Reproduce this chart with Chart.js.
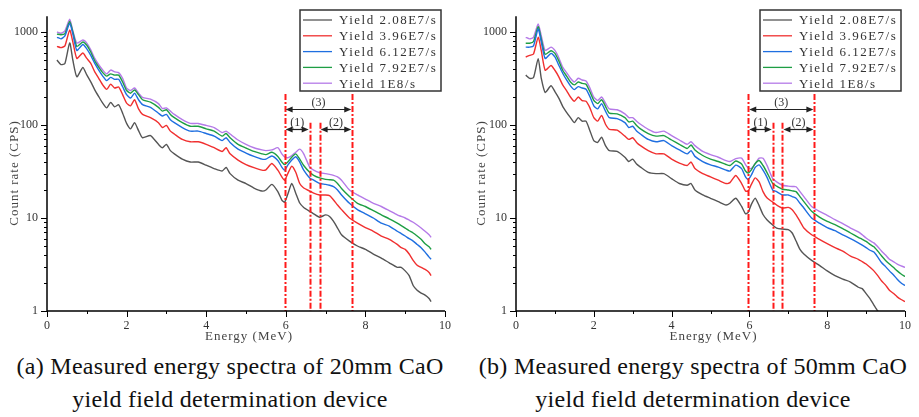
<!DOCTYPE html>
<html lang="en">
<head>
  <meta charset="UTF-8">
  <title>CaO yield field spectra</title>
  <script src="https://cdn.jsdelivr.net/npm/chart.js"></script>
  <style>
    body { margin: 0; background: #fff; width: 919px; height: 417px; position: relative; overflow: hidden; }
    canvas { position: absolute; top: 0; }
    #chartA { left: 0; }
    #chartB { left: 459px; }
    .caption { position: absolute; top: 350px; width: 460px; text-align: center; color: #111;
      font-family: "Liberation Serif", "Times New Roman", serif; font-size: 24px; line-height: 33px; letter-spacing: 0.3px; }
  </style>
</head>
<body>
  <canvas id="chartA" width="459" height="345"></canvas>
  <canvas id="chartB" width="460" height="345"></canvas>
  <div class="caption" style="left:0">(a) Measured energy spectra of 20mm CaO<br>yield field determination device</div>
  <div class="caption" style="left:463px">(b) Measured energy spectra of 50mm CaO<br>yield field determination device</div>

  <script>
    // ---- data ----
    const yieldLabels = ['Yield 2.08E7/s', 'Yield 3.96E7/s', 'Yield 6.12E7/s', 'Yield 7.92E7/s', 'Yield 1E8/s'];
    const lineColors = ['#555555', '#f03030', '#1f6fe0', '#1e9e44', '#b57ae8'];

    const xTicks = [0, 2, 4, 6, 8, 10];
    const yTicks = [1, 10, 100, 1000];

    // energy grid (MeV)
    const energyA = [0.25,0.35,0.45,0.57,0.65,0.75,0.9,1.0,1.1,1.2,
      1.3,1.4,1.5,1.6,1.7,1.8,1.9,2.0,2.1,2.2,
      2.3,2.4,2.6,2.8,2.9,3.0,3.1,3.2,3.4,3.6,
      3.8,4.0,4.2,4.4,4.5,4.6,4.8,5.0,5.2,5.4,
      5.5,5.65,5.8,5.9,5.97,6.05,6.15,6.25,6.35,6.45,
      6.6,6.7,6.85,7.0,7.1,7.2,7.3,7.4,7.6,7.8,
      8.0,8.2,8.4,8.6,8.8,8.9,9.0,9.1,9.2,9.3,
      9.4,9.5,9.6,9.65];
    const energyB = [0.25,0.35,0.45,0.57,0.65,0.75,0.9,1.0,1.1,1.2,
      1.3,1.4,1.5,1.6,1.7,1.8,1.9,2.0,2.1,2.2,
      2.3,2.4,2.6,2.8,2.9,3.0,3.1,3.2,3.4,3.6,
      3.8,4.0,4.2,4.4,4.5,4.6,4.8,5.0,5.2,5.4,
      5.5,5.65,5.8,5.9,5.97,6.05,6.15,6.25,6.35,6.45,
      6.6,6.7,6.85,7.0,7.1,7.2,7.3,7.4,7.6,7.8,
      8.0,8.2,8.4,8.6,8.8,8.9,9.0,9.1,9.2,9.3,
      9.4,9.5,9.6,9.7,9.8,9.9,10.0];

    // (a) 20mm CaO, count rate (CPS)
    const a208 = [500,447,460,765,497,330,415,346,291,239,
      202,172,153,175,157,165,134,104,91,106,
      87,73,77,62,57,62,53,49,43,40,
      40,37,34,32,35,30,25.5,23.5,21,19.5,
      20,23,19.2,15.6,14.8,18,23.5,18.5,14.5,13,
      11.8,11.1,10.2,10.8,10.4,9.2,7.8,6.6,5.65,5.0,
      4.6,4.1,3.7,3.3,2.95,2.95,2.7,2.4,1.88,1.67,
      1.56,1.48,1.36,1.26];
    const a396 = [700,680,710,1050,780,520,595,520,460,373,
      318,270,242,275,250,256,212,172,161,187,
      149,130,120,106,94,99,86,80,70,66,
      66,62,57,52,57,49,42,37.6,34.8,32.7,
      33,38.5,32.7,27.7,25.5,30,36,31,23.5,21,
      19.5,18.5,17.7,17.7,17.4,15.6,13.8,12.3,10.0,8.8,
      7.9,7.2,6.4,5.9,5.2,4.8,4.6,4.1,3.5,3.1,
      2.95,2.8,2.6,2.4];
    const a612 = [878,845,910,1240,950,634,734,660,560,460,
      390,336,300,325,310,310,258,212,195,220,
      187,166,155,134,125,130,114,106,94,86,
      86,81,76,68,73,65,55,50,46,43,
      43,46.5,41.5,35.3,32.7,37,42,45.6,40,32.7,
      27,25.5,23.5,23,22.5,21.7,20,17.7,14.4,12.3,
      11.1,10,8.8,8.2,7.2,6.8,6.4,6.0,5.65,5.2,
      4.8,4.3,3.8,3.6];
    const a792 = [950,935,960,1300,1000,700,780,720,610,490,
      420,366,336,355,344,344,290,235,220,238,
      212,187,176,155,141,146,130,120,106,97,
      97,91,86,76,81,73,62,56.6,52,49,
      48,51,46,40,37.5,40,45,49,43,36.7,
      31,28.8,27,26,25.8,25.5,23.5,20.8,17,14.4,
      13.3,12,10.8,9.8,8.8,8.3,7.8,7.3,6.9,6.4,
      5.9,5.3,4.9,4.6];
    const a1000 = [1000,970,1030,1370,1030,760,820,760,645,520,
      445,390,355,390,373,366,318,250,235,250,
      220,198,190,170,150,153,141,130,114,104,
      104,99,94,83,86,80,69,62,57,54,
      53,54,57,49,45.5,44.5,47,51,55,49,
      35.3,32.7,30.7,30,29.5,28.8,27.7,25.5,20,17.7,
      16,14.4,13.3,12,10.8,10.4,10,9.5,9,8.4,
      7.8,7.2,6.6,6.2];

    // (b) 50mm CaO, count rate (CPS)
    const b208 = [344,317,324,517,317,224,264,229,195,159,
      137,120,106,120,110,110,87,68,65,74,
      60,53,52,45,40.5,43,38,35.3,31,30,
      30,26.5,23.5,22.5,23.5,20,17.7,16.3,15,13.8,
      14.4,16.3,13.3,11.1,11.5,14,16.3,13.6,10.9,9.6,
      8.4,7.8,7.6,7.5,6.9,5.65,4.6,4.1,3.5,3.1,
      2.7,2.4,2.2,2.05,1.8,1.74,1.54,1.36,1.16,1.0,
      0.92,0.86,0.8,0.75,0.7,0.66,0.62];
    const b396 = [539,560,580,878,630,388,437,388,330,270,
      235,200,180,200,183,180,153,120,110,127,
      102,90,88,76,70,73,65,60,53,49,
      49,43,39,36.7,40,34,30,27.7,25.5,23.5,
      24,28.7,23.5,19.5,19.5,23,27,24.5,19.2,16.5,
      14.8,13.8,12.8,13,12.3,10.8,9.2,7.8,6.6,5.9,
      5.3,4.8,4.4,3.9,3.6,3.4,3.2,2.95,2.7,2.4,
      2.1,1.9,1.67,1.55,1.42,1.33,1.26];
    const b612 = [688,688,710,1080,780,520,590,540,440,360,
      305,264,240,259,250,243,202,161,149,170,
      141,120,117,106,94,97,86,80,70,66,
      68,60,54,49,53,46,40.5,37.3,35.3,32.7,
      32,37,34,27.7,26,29,35,37.3,32.7,27.5,
      20,19.2,17.7,17.7,17,16.3,14.4,12.8,10,8.8,
      7.9,7.3,6.6,6.0,5.4,5.1,4.8,4.5,4.3,3.8,
      3.3,3.0,2.7,2.45,2.2,2.0,1.88];
    const b792 = [758,758,790,1140,840,575,630,590,490,388,
      336,290,270,290,280,275,228,184,170,187,
      159,134,132,120,108,110,99,91,81,76,
      77,69,62,56,61,54,47,43,40.5,37.6,
      36.7,41,38,32,30.5,33,38.5,41.5,36.7,31,
      23.5,22,20.4,20,19.6,19.2,17,15,11.8,10.2,
      9.2,8.5,7.7,6.9,6.2,5.9,5.6,5.2,4.9,4.4,
      3.9,3.5,3.2,2.95,2.7,2.5,2.35];
    const b1000 = [878,845,878,1220,910,634,688,634,530,420,
      366,318,290,318,305,297,250,200,184,200,
      172,149,146,132,120,120,110,102,90,83,
      86,77,69,62,66,60,52,48,45,41.5,
      40.5,43.5,44,37.5,34.5,34,38.5,44,44,37,
      26.5,24.5,22.5,22,21.8,21.7,19.2,17,13.3,11.8,
      10.7,9.6,8.7,7.8,7.1,6.6,6.1,5.7,5.4,4.9,
      4.4,4.0,3.6,3.4,3.2,3.05,2.95];

    // energy windows (1), (2), (3) marked in red
    const cutEnergy = [5.97, 6.6, 6.85, 7.67];
    const cutTop = [215, 106, 106, 215];
    const arrowFrom = [5.97, 5.97, 6.85];
    const arrowTo = [7.67, 6.6, 7.67];
    const arrowLevel = [149, 90, 90];
    const arrowText = ['(3)', '(1)', '(2)'];

    const serifFont = '"Liberation Serif", "Times New Roman", serif';

    // axes, ticks, titles, window markers and the boxed legend
    const decorPlugin = {
      id: 'decor',
      afterDraw(chart, args, opts) {
        const { ctx, chartArea: a, scales: { x, y } } = chart;
        ctx.save();

        // red dash-dot window lines
        ctx.strokeStyle = '#ff1a1a';
        ctx.lineWidth = 2;
        ctx.setLineDash([6, 2, 2, 2]);
        cutEnergy.forEach((e, i) => {
          const px = Math.round(x.getPixelForValue(e)) + 0.5;
          ctx.beginPath();
          ctx.moveTo(px, y.getPixelForValue(cutTop[i]));
          ctx.lineTo(px, a.bottom);
          ctx.stroke();
        });
        ctx.setLineDash([]);

        // double arrows
        ctx.strokeStyle = '#222';
        ctx.fillStyle = '#222';
        ctx.lineWidth = 1.2;
        ctx.font = '12px ' + serifFont;
        ctx.textAlign = 'center';
        ctx.textBaseline = 'bottom';
        arrowFrom.forEach((e, i) => {
          const x1 = x.getPixelForValue(e) + 1, x2 = x.getPixelForValue(arrowTo[i]) - 1;
          const py = Math.round(y.getPixelForValue(arrowLevel[i])) + 0.5;
          ctx.beginPath(); ctx.moveTo(x1 + 4, py); ctx.lineTo(x2 - 4, py); ctx.stroke();
          ctx.beginPath(); ctx.moveTo(x1, py); ctx.lineTo(x1 + 7, py - 3); ctx.lineTo(x1 + 7, py + 3); ctx.closePath(); ctx.fill();
          ctx.beginPath(); ctx.moveTo(x2, py); ctx.lineTo(x2 - 7, py - 3); ctx.lineTo(x2 - 7, py + 3); ctx.closePath(); ctx.fill();
          ctx.fillStyle = '#333';
          ctx.fillText(arrowText[i], (x1 + x2) / 2, py - 1);
          ctx.fillStyle = '#222';
        });

        // axis lines
        ctx.strokeStyle = '#000';
        ctx.lineWidth = 1.5;
        ctx.beginPath();
        ctx.moveTo(a.left, a.top);
        ctx.lineTo(a.left, a.bottom);
        ctx.lineTo(a.right, a.bottom);
        ctx.stroke();

        // y ticks (log, with minors)
        ctx.lineWidth = 1;
        ctx.beginPath();
        for (let d = 1; d <= 1000; d *= 10) {
          for (let m = 1; m <= 9; m++) {
            const v = d * m;
            if (v > y.max) break;
            const py = Math.round(y.getPixelForValue(v)) + 0.5;
            const len = m === 1 ? 6 : 3;
            ctx.moveTo(a.left - len, py);
            ctx.lineTo(a.left, py);
          }
        }
        // x ticks, major every 2, minor every 1
        for (let e = 0; e <= 10; e++) {
          const px = Math.round(x.getPixelForValue(e)) + 0.5;
          const len = e % 2 === 0 ? 6 : 3;
          ctx.moveTo(px, a.bottom);
          ctx.lineTo(px, a.bottom + len);
        }
        ctx.stroke();

        // axis titles (spaced serif to mimic the original CJK font)
        ctx.fillStyle = '#444';
        ctx.font = '13px ' + serifFont;
        ctx.letterSpacing = '1px';
        ctx.textAlign = 'center';
        ctx.textBaseline = 'middle';
        ctx.fillText('Energy (MeV)', (a.left + a.right) / 2 + 3, 337);
        ctx.translate(opts.yTitleX, 173);
        ctx.rotate(-Math.PI / 2);
        ctx.fillText('Count rate (CPS)', 0, 0);
        ctx.setTransform(1, 0, 0, 1, 0, 0);

        // legend box
        const bw = 141, bh = 81;
        const bx = a.right - 4 - bw, by = 10;
        ctx.fillStyle = '#fff';
        ctx.fillRect(bx, by, bw, bh);
        ctx.strokeStyle = '#333';
        ctx.lineWidth = 1.5;
        ctx.strokeRect(bx, by, bw, bh);
        ctx.font = '13px ' + serifFont;
        ctx.letterSpacing = '1.5px';
        ctx.textAlign = 'left';
        chart.data.datasets.forEach((ds, i) => {
          const ry = by + 10 + i * 15.8;
          ctx.strokeStyle = ds.borderColor;
          ctx.lineWidth = 1.3;
          ctx.beginPath(); ctx.moveTo(bx + 3, ry); ctx.lineTo(bx + 32, ry); ctx.stroke();
          ctx.fillStyle = '#333';
          ctx.fillText(ds.label, bx + 39, ry + 1);
        });

        ctx.restore();
      }
    };

    function makeChart(id, energy, series, leftWidth, rightPad, yTitleX) {
      return new Chart(document.getElementById(id), {
        type: 'line',
        data: {
          datasets: series.map((vals, i) => ({
            label: yieldLabels[i],
            data: energy.map((e, k) => ({ x: e, y: vals[k] })),
            borderColor: lineColors[i],
            borderWidth: 1.4,
            pointRadius: 0,
            tension: 0.2,
            fill: false
          }))
        },
        options: {
          responsive: false,
          animation: false,
          layout: { padding: { top: 12, right: rightPad, left: 0, bottom: 0 } },
          plugins: {
            legend: { display: false },
            tooltip: { enabled: false },
            decor: { yTitleX: yTitleX }
          },
          scales: {
            x: {
              type: 'linear', min: 0, max: 10,
              grid: { display: false, drawTicks: false },
              border: { display: false },
              afterBuildTicks: s => { s.ticks = xTicks.map(v => ({ value: v })); },
              afterFit: s => { s.height = 34; },
              ticks: { padding: 8, maxRotation: 0, color: '#333', font: { family: serifFont, size: 12 } }
            },
            y: {
              type: 'logarithmic', min: 1, max: 1480,
              grid: { display: false, drawTicks: false },
              border: { display: false },
              afterBuildTicks: s => { s.ticks = yTicks.map(v => ({ value: v })); },
              afterFit: s => { s.width = leftWidth; },
              ticks: { padding: 9, color: '#333', callback: v => String(v), font: { family: serifFont, size: 12 } }
            }
          }
        },
        plugins: [decorPlugin]
      });
    }

    makeChart('chartA', energyA, [a208, a396, a612, a792, a1000], 47, 12, 15);
    makeChart('chartB', energyB, [b208, b396, b612, b792, b1000], 57, 7, 23);
  </script>
</body>
</html>
